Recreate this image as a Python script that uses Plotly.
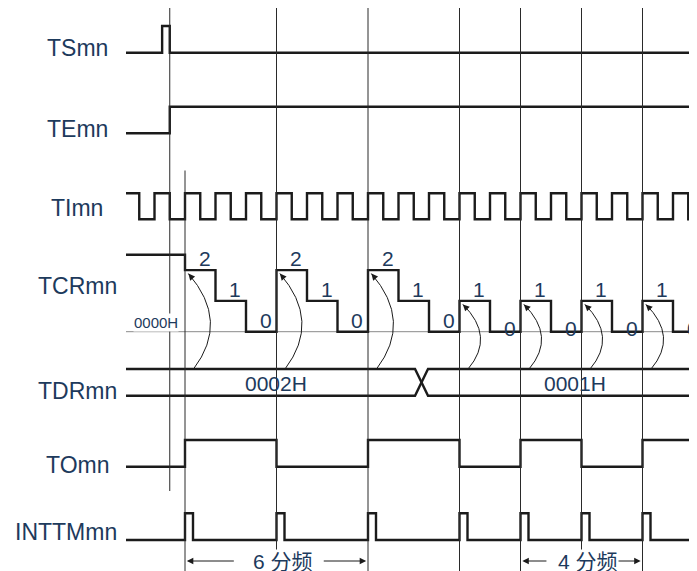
import plotly.graph_objects as go

# ---------------- data (time in TImn clock periods) ----------------
signal_names = ["TSmn", "TEmn", "TImn", "TCRmn", "TDRmn", "TOmn", "INTTMmn"]
t_first = -1.934          # where the traces begin
ts_times = [-1.934, -0.75, -0.5]
ts_levels = [0, 1, 0]
te_times = [-1.934, -0.5]
te_levels = [0, 1]
ti_slot_start = -2.0      # TImn levels per half period, starting at t = -2
ti_levels = [1, 0, 1, 0, 1, 0, 1, 0, 1, 0, 1, 0, 1, 0, 1, 0, 1, 0, 1, 0,
             1, 0, 1, 0, 1, 0, 1, 0, 1, 0, 1, 0, 1, 0, 1, 0, 1, 0]
tcr_before = 2.5          # undefined value before start (drawn above "2")
tcr_counts = [2, 1, 0, 2, 1, 0, 2, 1, 0, 1, 0, 1, 0, 1, 0, 1, 0]
reload_times = [0, 3, 6, 9, 11, 13, 15]
reload_values = [2, 2, 2, 1, 1, 1, 1]
tdr_values = ["0002H", "0001H"]
tdr_change = 7.755
to_before = 0
to_levels = [1, 0, 1, 0, 1, 0, 1]
start_trigger = -0.5
divide_spans = [("6 分频", 0, 6), ("4 分频", 11, 15)]

# ---------------- geometry / style ----------------
PAGE_OFF = 8              # browser body margin
W, H = 697, 571
X0PX, PXT = 185.0, 30.5
X_MIN, X_MAX = (PAGE_OFF - X0PX) / PXT, (W - X0PX) / PXT
rows = {"TSmn": (52.7, 26.0), "TEmn": (133.3, 106.7), "TImn": (219.3, 193.3),
        "TOmn": (466.7, 440.0), "INTTMmn": (540.0, 513.3)}
TCR0, TCRSTEP = 331.7, 30.8
TDR_UP, TDR_LO = 369.0, 395.7
SIG = "#1b1b1b"
GRID = "#2a2a2a"
TXT = "#1d3a5c"
FONT = "Liberation Sans, Arial, sans-serif"
PULSE_W = 8.0 / PXT

fig = go.Figure()


def step(times, levels, row):
    low, high = rows[row]
    xs = list(times) + [X_MAX]
    ys = [high if v else low for v in levels] + [high if levels[-1] else low]
    fig.add_trace(go.Scatter(x=xs, y=ys, mode="lines", line_shape="hv",
                             line=dict(color=SIG, width=2.4),
                             hoverinfo="skip", showlegend=False))


step(ts_times, ts_levels, "TSmn")
step(te_times, te_levels, "TEmn")

ti_times = [t_first] + [ti_slot_start + 0.5 * i for i in range(1, len(ti_levels))]
step(ti_times, ti_levels, "TImn")

# TCR
tcr_times = [t_first] + list(range(len(tcr_counts)))
tcr_vals = [tcr_before] + tcr_counts
step_y = lambda c: TCR0 - TCRSTEP * c
fig.add_trace(go.Scatter(x=tcr_times + [X_MAX],
                         y=[step_y(c) for c in tcr_vals] + [step_y(tcr_vals[-1])],
                         mode="lines", line_shape="hv",
                         line=dict(color=SIG, width=2.4),
                         hoverinfo="skip", showlegend=False))

# TO
step([t_first] + reload_times, [to_before] + to_levels, "TOmn")

# INTTM pulses
it_t, it_v = [t_first], [0]
for t in reload_times:
    it_t += [t, t + PULSE_W]
    it_v += [1, 0]
step(it_t, it_v, "INTTMmn")

# TDR bus with crossing
hw = 0.213
for a, b in ((TDR_UP, TDR_LO), (TDR_LO, TDR_UP)):
    fig.add_trace(go.Scatter(x=[t_first, tdr_change - hw, tdr_change + hw, X_MAX],
                             y=[a, a, b, b], mode="lines",
                             line=dict(color=SIG, width=2.4),
                             hoverinfo="skip", showlegend=False))

shapes = []
# 0000H baseline
shapes.append(dict(type="line", xref="x", yref="y", x0=t_first, x1=X_MAX,
                   y0=TCR0, y1=TCR0, line=dict(color="#8a8a8a", width=1), layer="below"))
# vertical marker lines
shapes.append(dict(type="line", xref="x", yref="y", x0=start_trigger, x1=start_trigger,
                   y0=8, y1=491, line=dict(color=GRID, width=1)))
for t in reload_times:
    shapes.append(dict(type="line", xref="x", yref="y", x0=t, x1=t,
                       y0=170.5 if t == reload_times[0] else 8, y1=H,
                       line=dict(color=GRID, width=1)))

annotations = []
# row labels
label_pos = {"TSmn": 48, "TEmn": 129, "TImn": 208, "TCRmn": 286,
             "TDRmn": 391, "TOmn": 465, "INTTMmn": 532}
for name in signal_names:
    if name == "INTTMmn":
        xpx, anchor = 119, "right"
    else:
        xpx, anchor = 77, "center"
    annotations.append(dict(x=(xpx - X0PX) / PXT, y=label_pos[name], xref="x", yref="y",
                            text=name, showarrow=False, xanchor=anchor, yanchor="middle",
                            font=dict(family=FONT, size=23, color=TXT)))

# counter value labels
reload_of = {}
for rt, rv in zip(reload_times, reload_values):
    for k in range(rv + 1):
        reload_of[rt + k] = rv
for i, c in enumerate(tcr_counts):
    if c == 0 and reload_of.get(i) == 1:
        ypos = TCR0 - 3.5
    else:
        ypos = step_y(c) - 11.5
    annotations.append(dict(x=i + 0.65, y=ypos, xref="x", yref="y", text=str(c),
                            showarrow=False, font=dict(family=FONT, size=21, color=TXT)))

annotations.append(dict(x=(156 - X0PX) / PXT, y=322, xref="x", yref="y", text="0000H",
                        showarrow=False, bgcolor="white", borderpad=0,
                        font=dict(family=FONT, size=15, color=TXT)))
# TDR values
for val, xc in zip(tdr_values, [(276 - X0PX) / PXT, (575 - X0PX) / PXT]):
    annotations.append(dict(x=xc, y=383, xref="x", yref="y", text=val, showarrow=False,
                            font=dict(family=FONT, size=21, color=TXT)))

# curved reload arrows
for rt, rv in zip(reload_times, reload_values):
    sx, sy = rt + 0.28, TDR_UP
    ex, ey = rt + 0.11, step_y(rv) + 3.5
    cx = sx + (1.19 if rv == 2 else 0.9)
    cy = (sy + ey) / 2
    shapes.append(dict(type="path", xref="x", yref="y",
                       path=f"M {sx},{sy} Q {cx},{cy} {ex},{ey}",
                       line=dict(color=SIG, width=1)))
    k = 0.12
    annotations.append(dict(x=ex, y=ey, ax=ex + k * (cx - ex), ay=ey + k * (cy - ey),
                            xref="x", yref="y", axref="x", ayref="y", text="",
                            showarrow=True, arrowhead=2, arrowsize=1.3, arrowwidth=1,
                            arrowcolor=SIG, standoff=0))

# division spans
for text, a, b in divide_spans:
    wide = b - a > 4
    mid = (a + b) / 2 + 0.2
    ytxt = 561
    left_tail = mid - (1.55 if wide else 1.3)
    right_tail = mid + (1.3 if wide else 0.95)
    for tip, tail in ((a + 0.06, left_tail), (b - 0.06, right_tail)):
        annotations.append(dict(x=tip, y=ytxt, ax=tail, ay=ytxt, xref="x", yref="y",
                                axref="x", ayref="y", text="", showarrow=True,
                                arrowhead=2, arrowsize=1.3, arrowwidth=1,
                                arrowcolor=SIG, standoff=0))
    annotations.append(dict(x=mid, y=ytxt, xref="x", yref="y", text=text, showarrow=False,
                            bgcolor="white", borderpad=0,
                            font=dict(family="Liberation Sans, Noto Sans CJK SC, sans-serif",
                                      size=21, color=TXT)))

fig.update_layout(
    width=W - PAGE_OFF, height=H - PAGE_OFF, margin=dict(l=0, r=0, t=0, b=0),
    paper_bgcolor="white", plot_bgcolor="white",
    xaxis=dict(range=[X_MIN, X_MAX], visible=False, fixedrange=True),
    yaxis=dict(range=[H, PAGE_OFF], visible=False, fixedrange=True),
    shapes=shapes, annotations=annotations, showlegend=False,
)
fig.write_html("out.html")
